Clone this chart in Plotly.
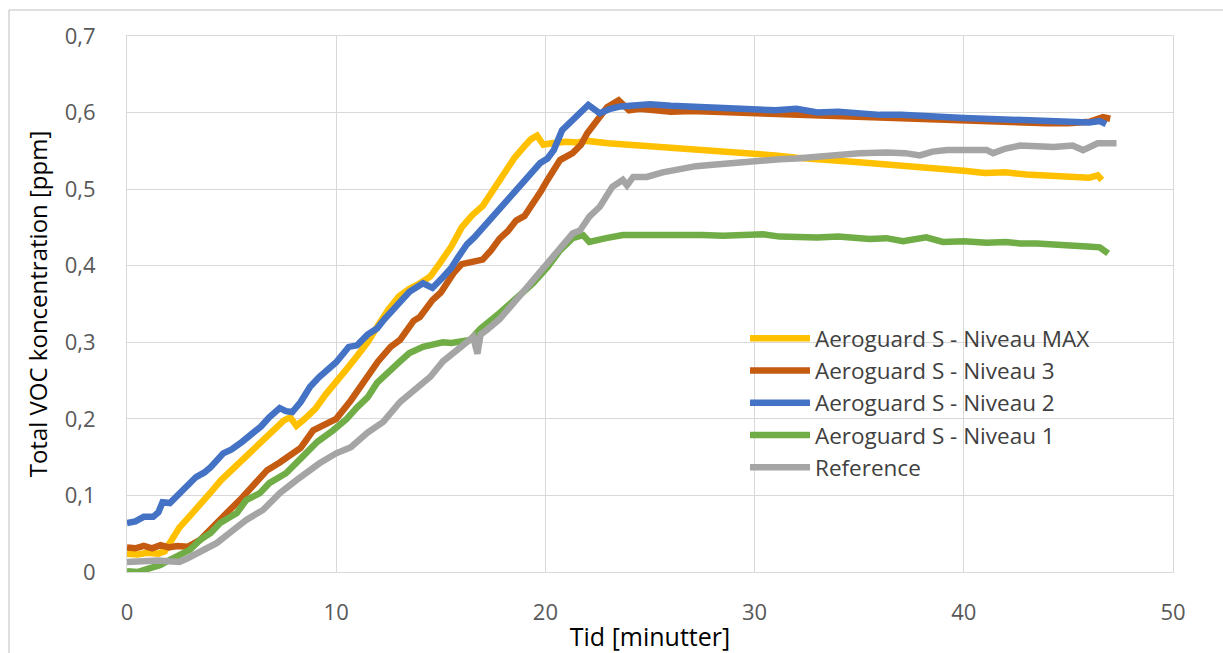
import plotly.graph_objects as go

# ---- data ----
series_names = ["Aeroguard S - Niveau MAX", "Aeroguard S - Niveau 3", "Aeroguard S - Niveau 2",
                "Aeroguard S - Niveau 1", "Reference"]
series_colors = ["#FFC000", "#C55A11", "#4472C4", "#70AD47", "#A5A5A5"]

x_max = [0, 0.5, 1, 1.5, 1.8, 2.1, 2.5, 3.0, 3.5, 4.0, 4.5, 5.0, 5.5, 6.0, 6.5, 7.0, 7.5, 7.8, 8.1, 8.5,
         9.0, 9.5, 10.0, 10.5, 11.0, 11.5, 12.0, 12.5, 13.0, 13.5, 14.0, 14.5, 15.0, 15.5, 16.0, 16.5,
         17.0, 17.5, 18.0, 18.5, 19.0, 19.3, 19.6, 19.9, 20.3, 21, 21.5, 22, 23, 24,
         25, 26, 27, 28, 29, 30, 31, 32, 33, 34, 35, 36, 37, 38, 39, 40, 41, 42, 43, 44, 45, 46, 46.4, 46.6]
y_max = [0.024, 0.023, 0.025, 0.024, 0.027, 0.042, 0.058, 0.073, 0.09, 0.104, 0.12, 0.133, 0.147, 0.16,
         0.173, 0.186, 0.198, 0.202, 0.191, 0.2, 0.213, 0.232, 0.25, 0.265, 0.282, 0.3, 0.322, 0.343,
         0.36, 0.37, 0.377, 0.386, 0.405, 0.425, 0.45, 0.466, 0.478, 0.5, 0.52, 0.54, 0.556, 0.565,
         0.57, 0.558, 0.56, 0.562, 0.561, 0.563, 0.56, 0.558,
         0.556, 0.555, 0.553, 0.551, 0.55, 0.546, 0.544, 0.541, 0.54, 0.537, 0.535, 0.533, 0.532,
         0.529, 0.526, 0.524, 0.521, 0.522, 0.519, 0.518, 0.516, 0.515, 0.518, 0.512]

x_n3 = [0, 0.4, 0.8, 1.2, 1.6, 2.0, 2.4, 2.9, 3.5, 4.0, 4.8, 5.5, 6.0, 6.7, 7.3, 7.8, 8.3, 8.9, 9.5, 10.0,
        10.7, 11.1, 11.5, 12.0, 12.6, 13.05, 13.7, 14.0, 14.6, 15.0, 15.6, 16.0, 16.5, 17.0, 17.4,
        17.8, 18.2, 18.6, 19.0, 19.4, 19.8, 20.1, 20.7, 21.3, 21.7, 22.0, 22.5, 22.95, 23.5, 24.0, 24.5,
        25, 26, 27, 28, 29, 30, 31, 32, 33, 34, 35, 36, 37, 38, 39, 40, 41, 42, 43, 44, 45, 46, 46.65, 47.0]
y_n3 = [0.032, 0.031, 0.034, 0.031, 0.035, 0.032, 0.034, 0.033, 0.042, 0.055, 0.078, 0.097, 0.112,
        0.133, 0.143, 0.153, 0.162, 0.185, 0.194, 0.2, 0.224, 0.24, 0.258, 0.275, 0.294, 0.303, 0.328,
        0.333, 0.355, 0.365, 0.39, 0.402, 0.405, 0.408, 0.42, 0.435, 0.445, 0.459, 0.465, 0.48, 0.498,
        0.512, 0.538, 0.547, 0.558, 0.573, 0.59, 0.607, 0.616, 0.603, 0.605,
        0.603, 0.601, 0.602, 0.601, 0.6, 0.6, 0.599, 0.598, 0.596, 0.596, 0.594, 0.592, 0.592, 0.591,
        0.59, 0.589, 0.589, 0.588, 0.587, 0.586, 0.586, 0.588, 0.594, 0.592]

x_n2 = [0, 0.4, 0.8, 1.25, 1.5, 1.7, 2.05, 2.4, 2.7, 3.3, 3.7, 4.0, 4.6, 5.0, 5.5, 6.0, 6.4, 6.8, 7.3, 7.6,
        7.9, 8.3, 8.75, 9.2, 9.6, 10.0, 10.6, 11.0, 11.5, 11.95, 12.3, 12.7, 13.1, 13.5, 14.15, 14.6,
        15.1, 15.5, 15.8, 16.25, 16.6, 16.9, 17.3, 17.8, 18.3, 18.8, 19.3, 19.75, 20.1, 20.4, 20.8, 21.3,
        21.65, 22.05, 22.6, 23.1, 23.6, 24.2,
        25, 26, 27, 28, 29, 30, 31, 32, 33, 34, 35, 36, 37, 38, 39, 40, 41, 42, 43, 44, 45, 46, 46.5, 46.8]
y_n2 = [0.064, 0.066, 0.072, 0.072, 0.078, 0.091, 0.09, 0.1, 0.107, 0.124, 0.13, 0.137, 0.155, 0.16,
        0.17, 0.181, 0.19, 0.202, 0.214, 0.21, 0.209, 0.222, 0.242, 0.255, 0.265, 0.274, 0.294, 0.296,
        0.31, 0.318, 0.33, 0.342, 0.355, 0.366, 0.377, 0.371, 0.385, 0.397, 0.41, 0.428, 0.437, 0.446,
        0.46, 0.476, 0.49, 0.503, 0.518, 0.534, 0.54, 0.551, 0.577, 0.59, 0.599, 0.61, 0.599, 0.605,
        0.608, 0.609,
        0.611, 0.609, 0.608, 0.607, 0.606, 0.604, 0.603, 0.605, 0.6, 0.601, 0.598, 0.597, 0.597, 0.595,
        0.594, 0.593, 0.592, 0.591, 0.59, 0.589, 0.588, 0.587, 0.589, 0.585]

x_n1 = [0, 0.5, 1.1, 1.6, 2.05, 2.5, 3.0, 3.5, 4.0, 4.45, 5.25, 5.7, 6.35, 6.8, 7.6, 8.3, 9.1, 9.85, 10.5,
        11.0, 11.5, 11.95, 12.7, 13.05, 13.5, 14.15, 14.6, 15.1, 15.5, 15.9, 16.4, 16.9, 17.4, 17.8,
        18.3, 18.8, 19.4, 20.1, 20.7, 21.3, 21.8, 22.1, 22.5, 22.9, 23.7, 24.2, 24.9, 26, 26.9, 27.5,
        28.5, 29.3, 30.4, 31.2, 32, 33, 34, 35, 35.5, 36.3, 37.1, 38.2, 39, 40, 41.1, 42, 42.7, 43.5,
        44.3, 45.1, 45.9, 46.5, 46.9]
y_n1 = [0.001, 0.0, 0.005, 0.009, 0.016, 0.022, 0.029, 0.042, 0.051, 0.064, 0.077, 0.094, 0.103, 0.116,
        0.129, 0.148, 0.17, 0.185, 0.2, 0.215, 0.228, 0.247, 0.268, 0.275, 0.286, 0.294, 0.297, 0.3,
        0.299, 0.3, 0.303, 0.318, 0.328, 0.338, 0.35, 0.362, 0.377, 0.398, 0.42, 0.436, 0.44, 0.431,
        0.434, 0.436, 0.44, 0.44, 0.441, 0.44, 0.442, 0.44, 0.439, 0.44, 0.441, 0.438, 0.437, 0.437,
        0.438, 0.436, 0.435, 0.436, 0.432, 0.437, 0.431, 0.432, 0.43, 0.431, 0.429, 0.429, 0.427, 0.427,
        0.425, 0.424, 0.416]

x_ref = [0, 0.5, 1.0, 1.5, 2.0, 2.5, 2.9, 3.15, 3.6, 4.3, 4.9, 5.7, 6.5, 7.3, 8.1, 8.9, 9.2, 10.0, 10.7,
         11.5, 12.25, 13.05, 13.85, 14.5, 15.1, 15.9, 16.55, 16.75, 16.9, 17.2, 17.8, 18.6, 19.4, 20.1,
         20.7, 21.3, 21.65, 22.1, 22.6, 23.2, 23.7, 23.9, 24.2, 24.85, 25.6, 26.4, 27.2, 28, 28.8, 29.6,
         30.4, 31.2, 32, 32.8, 33.9, 35, 36.3, 37.2, 37.9, 38.5, 39.2, 40.2, 41.1, 41.4, 42.0, 42.7,
         43.5, 44.3, 45.2, 45.7, 46.4, 47.3]
y_ref = [0.013, 0.014, 0.013, 0.015, 0.014, 0.013, 0.018, 0.022, 0.029, 0.038, 0.051, 0.068, 0.081,
         0.103, 0.12, 0.137, 0.142, 0.155, 0.163, 0.182, 0.196, 0.222, 0.24, 0.255, 0.275, 0.294, 0.307,
         0.285, 0.31, 0.316, 0.33, 0.355, 0.381, 0.403, 0.42, 0.442, 0.446, 0.464, 0.477, 0.503, 0.512,
         0.505, 0.516, 0.516, 0.522, 0.527, 0.53, 0.532, 0.534, 0.537, 0.539, 0.539, 0.54, 0.542, 0.545,
         0.547, 0.548, 0.547, 0.544, 0.549, 0.551, 0.55, 0.551, 0.547, 0.553, 0.557, 0.555, 0.555, 0.557,
         0.551, 0.56, 0.56]

x_ticks = [0, 10, 20, 30, 40, 50]
y_ticks = [0, 0.1, 0.2, 0.3, 0.4, 0.5, 0.6, 0.7]
y_tick_labels = ["0", "0,1", "0,2", "0,3", "0,4", "0,5", "0,6", "0,7"]

xs = [x_max, x_n3, x_n2, x_n1, x_ref]
ys = [y_max, y_n3, y_n2, y_n1, y_ref]

# ---- figure ----
W, H = 1223, 653
L, R, T, B = 127, 50, 36, 81
pw, ph = W - L - R, H - T - B


def px_x(p):
    return (p - L) / pw


def px_y(p):
    return (H - B - p) / ph


fig = go.Figure()
for name, col, xx, yy in zip(series_names, series_colors, xs, ys):
    fig.add_trace(go.Scatter(x=xx, y=yy, mode="lines", name=name,
                             line=dict(color=col, width=6.5)))

grid = "#D9D9D9"
fig.update_layout(
    width=W, height=H,
    margin=dict(l=L, r=R, t=T, b=B, autoexpand=False),
    paper_bgcolor="white", plot_bgcolor="white",
    font=dict(family="Open Sans", color="#595959"),
    showlegend=True,
    legend=dict(x=px_x(745), y=px_y(317), xanchor="left", yanchor="top",
                bgcolor="rgba(255,255,255,0)", borderwidth=0,
                font=dict(size=22.5, color="#404040"), itemwidth=60),
    xaxis=dict(range=[0, 50], tickvals=x_ticks, ticktext=[str(v) for v in x_ticks],
               showgrid=True, gridcolor=grid, gridwidth=1, zeroline=False,
               showline=True, linecolor=grid, linewidth=1, mirror=True,
               ticks="", tickfont=dict(size=22, color="#595959"), ticklabelstandoff=21,
               title=dict(text="Tid [minutter]", font=dict(size=25, color="#000000"), standoff=4),
               automargin=False),
    yaxis=dict(range=[0, 0.7], tickvals=y_ticks, ticktext=y_tick_labels,
               showgrid=True, gridcolor=grid, gridwidth=1, zeroline=False,
               showline=True, linecolor=grid, linewidth=1, mirror=True,
               ticks="", tickfont=dict(size=22, color="#595959"), ticklabelstandoff=26,
               title=dict(text="Total VOC koncentration [ppm]", font=dict(size=24, color="#000000"),
                          standoff=10),
               automargin=False),
    shapes=[
        # legend background box
        dict(type="rect", xref="paper", yref="paper", x0=px_x(711), x1=px_x(1140),
             y0=px_y(482), y1=px_y(322), fillcolor="white", line=dict(width=0), layer="between"),
        # outer chart border (left and top edges visible)
        dict(type="rect", xref="paper", yref="paper", x0=px_x(9), x1=px_x(1240),
             y0=px_y(680), y1=px_y(10), fillcolor="rgba(0,0,0,0)",
             line=dict(color="#BFBFBF", width=1), layer="below"),
    ],
)

fig.write_html("out.html")
